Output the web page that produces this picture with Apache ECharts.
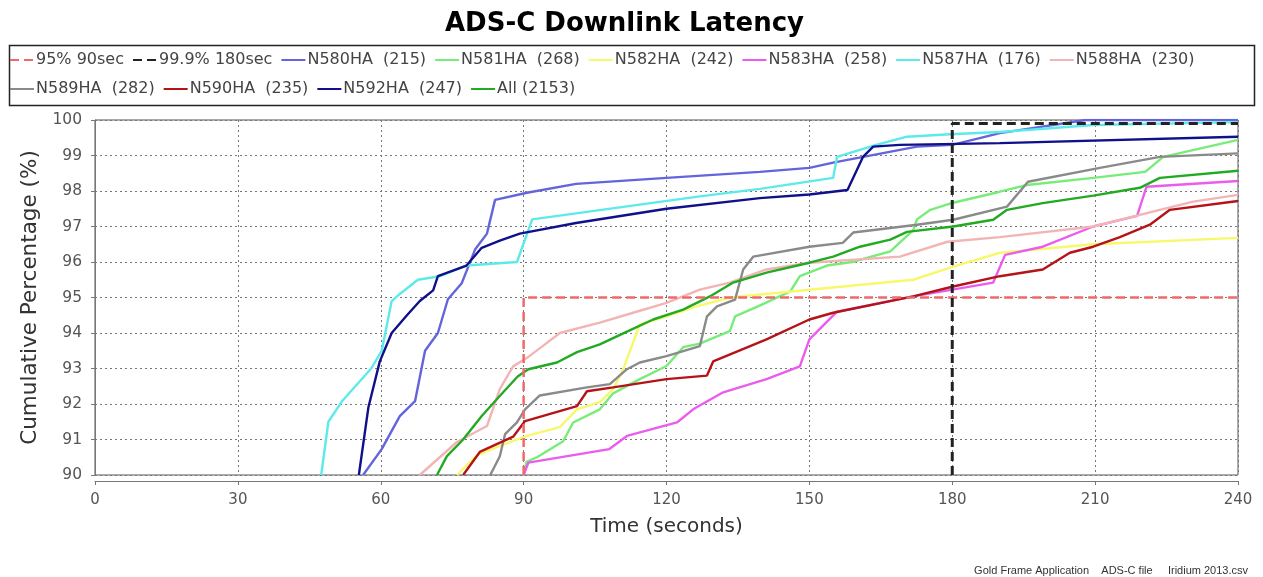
<!DOCTYPE html>
<html>
<head>
<meta charset="utf-8">
<script src="https://cdn.jsdelivr.net/npm/echarts@6/dist/echarts.min.js"></script>
<style>
html,body{margin:0;padding:0;background:#fff;}
#chart{width:1263px;height:577px;}
</style>
</head>
<body>
<div id="chart"></div>
<script>
// ---- data (time in seconds, cumulative percentage) ----
const xTicks = [0, 30, 60, 90, 120, 150, 180, 210, 240];
const yTicks = [90, 91, 92, 93, 94, 95, 96, 97, 98, 99, 100];

const ref95 = [[90, 90], [90, 95], [240, 95]];
const ref999 = [[180, 90], [180, 99.9], [240, 99.9]];

const n580 = [[56.3,90],[60.2,90.73],[64,91.66],[67.2,92.08],[69.3,93.5],[72,94.0],[74.1,94.95],[77,95.4],[79.8,96.35],[82.3,96.8],[84,97.75],[90.7,97.95],[101,98.2],[120,98.37],[139.6,98.54],[150,98.65],[155,98.8],[172.6,99.25],[180,99.3],[190,99.63],[208,100],[240,100]];
const n581 = [[90,90],[90.6,90.37],[92.8,90.5],[98.3,90.95],[100.4,91.48],[106,91.85],[108.8,92.3],[114.4,92.7],[120,93.07],[123.5,93.6],[127,93.7],[130.5,93.9],[133.3,94.05],[134.4,94.47],[139.2,94.75],[146,95.17],[148,95.6],[153.7,95.9],[159,96.0],[167,96.3],[171.8,96.9],[172.6,97.2],[175.4,97.47],[180.2,97.67],[190,97.98],[195.7,98.17],[209.6,98.37],[220.5,98.54],[224.3,98.96],[240,99.44]];
const n582 = [[76,90],[80.2,90.55],[85,90.82],[90.7,91.1],[97.6,91.35],[101.2,91.85],[106,92.05],[108.8,92.42],[110.9,92.98],[114.4,94.24],[120,94.47],[125.6,94.72],[133.3,95.0],[150,95.22],[171.8,95.5],[180.2,95.87],[190,96.26],[209.6,96.5],[240,96.68]];
const n583 = [[90,90],[91,90.35],[108,90.73],[111.7,91.1],[122.2,91.48],[125.6,91.85],[131.9,92.33],[141,92.7],[148,93.06],[150,93.82],[155.8,94.6],[171.8,95.03],[188.6,95.42],[191.1,96.2],[199,96.43],[209.6,97.0],[218.8,97.3],[220.8,98.12],[240,98.28]];
const n587 = [[47.5,90],[49,91.5],[52,92.1],[58,93.0],[60.2,93.5],[62.3,94.9],[64,95.1],[67.8,95.5],[72.4,95.6],[78,95.9],[88.6,96.0],[91.8,97.2],[127,97.85],[139.6,98.06],[155,98.37],[155.8,98.96],[164,99.3],[170.5,99.53],[179.5,99.6],[190,99.66],[209.6,99.86],[240,99.94]];
const n588 = [[68.2,90],[76,90.93],[82.3,91.38],[85,92.42],[87.8,93.06],[90.7,93.3],[94,93.63],[97.6,94.0],[106,94.29],[113,94.57],[120,94.85],[127,95.22],[133.3,95.42],[141,95.79],[150,95.98],[169,96.15],[179,96.57],[190,96.7],[209.6,97.0],[223.6,97.47],[230.6,97.7],[240,97.89]];
const n589 = [[83,90],[85,90.53],[86.1,91.15],[88.6,91.48],[90.3,91.85],[93.4,92.24],[103.3,92.47],[108.1,92.56],[111.7,92.98],[114.4,93.17],[120,93.35],[127,93.63],[128.5,94.47],[130.6,94.75],[134.4,94.94],[136.1,95.79],[138.2,96.15],[150,96.43],[157,96.54],[159.2,96.83],[172.6,97.05],[180.2,97.19],[191.5,97.56],[195.9,98.26],[211,98.65],[223.6,98.96],[240,99.06]];
const n590 = [[77.3,90],[80.8,90.65],[87.8,91.08],[90.3,91.52],[101.2,91.94],[103.3,92.36],[108.8,92.47],[120,92.7],[128.5,92.8],[129.8,93.2],[141,93.82],[150,94.38],[155,94.57],[171.8,95.03],[180.2,95.31],[190,95.6],[199,95.79],[204.7,96.26],[209.6,96.43],[215.2,96.7],[221.5,97.05],[225.7,97.47],[240,97.72]];
const n592 = [[55.4,90],[57.4,91.9],[59.8,93.2],[62.3,94.0],[65.5,94.5],[68.2,94.9],[71,95.2],[72,95.6],[78,95.9],[81.2,96.4],[85,96.6],[89.2,96.8],[101,97.1],[120,97.5],[139.6,97.8],[150,97.9],[158,98.03],[161.3,98.97],[163.4,99.25],[169,99.3],[190,99.35],[240,99.53]];
const all = [[71.8,90],[73.9,90.53],[77.3,91.0],[81.2,91.66],[85.7,92.33],[88.8,92.78],[91,92.98],[97,93.17],[101.2,93.46],[106,93.68],[111.7,94.04],[117.2,94.38],[123.5,94.66],[129.1,95.03],[134,95.42],[141,95.7],[150,95.98],[155,96.15],[160.6,96.43],[167,96.63],[170.5,96.85],[180.2,97.0],[188.6,97.19],[191.5,97.47],[199,97.66],[209.6,97.87],[219.4,98.09],[223.6,98.37],[240,98.57]];

const seriesNames = ['95% 90sec','99.9% 180sec','N580HA  (215)','N581HA  (268)','N582HA  (242)','N583HA  (258)','N587HA  (176)','N588HA  (230)','N589HA  (282)','N590HA  (235)','N592HA  (247)','All (2153)'];
const seriesData = [ref95, ref999, n580, n581, n582, n583, n587, n588, n589, n590, n592, all];
const seriesColors = ['#ee6a6a','#222222','#6464dc','#78ec78','#f8f86c','#ec5cec','#5ceaea','#f2b4b4','#8a8a8a','#b41418','#10108a','#22aa22'];

const chart = echarts.init(document.getElementById('chart'), null, {renderer: 'canvas'});

const series = seriesNames.map((name, i) => {
  const isRef = i < 2;
  return {
    name: name,
    type: 'line',
    data: seriesData[i],
    showSymbol: false,
    symbol: 'none',
    animation: false,
    z: isRef ? 10 : 3,
    lineStyle: {
      color: seriesColors[i],
      width: isRef ? (i === 0 ? 2.5 : 3) : 2.4,
      type: isRef ? [9, 5] : 'solid'
    },
    itemStyle: {color: seriesColors[i]}
  };
});

const legendCommon = {
  left: 9,
  padding: 0,
  orient: 'horizontal',
  itemWidth: 24,
  itemHeight: 14,
  itemGap: 8,
  itemStyle: {opacity: 0},
  textStyle: {fontFamily: 'DejaVu Sans', fontSize: 16, color: '#444', padding: [0, 0, 0, -3]}
};

chart.setOption({
  backgroundColor: '#ffffff',
  animation: false,
  title: {
    text: 'ADS-C Downlink Latency',
    left: 440,
    top: 6,
    textStyle: {fontFamily: 'DejaVu Sans', fontWeight: 'bold', fontSize: 26, color: '#000'}
  },
  legend: [
    Object.assign({}, legendCommon, {top: 52, data: seriesNames.slice(0, 8)}),
    Object.assign({}, legendCommon, {top: 81, data: seriesNames.slice(8)})
  ],
  graphic: [
    {type: 'rect', left: 7, top: 43, shape: {width: 1245, height: 60}, style: {fill: 'none', stroke: '#222', lineWidth: 1.5}, z: 0, silent: true},
    {type: 'text', right: 15, top: 565, style: {text: 'Gold Frame Application    ADS-C file     Iridium 2013.csv', fontFamily: 'Liberation Sans', fontSize: 11, fill: '#333'}}
  ],
  grid: {
    left: 95, right: 25, top: 120, bottom: 102,
    show: true, borderColor: '#555', borderWidth: 1, backgroundColor: '#fff'
  },
  xAxis: {
    type: 'value', min: 0, max: 240, interval: 30, offset: 6,
    name: 'Time (seconds)', nameLocation: 'middle', nameGap: 36,
    nameTextStyle: {fontFamily: 'DejaVu Sans', fontSize: 20, color: '#333'},
    axisLine: {show: true, lineStyle: {color: '#777', width: 1}},
    axisTick: {show: true, length: 4, lineStyle: {color: '#777'}},
    axisLabel: {fontFamily: 'DejaVu Sans', fontSize: 15, color: '#555', margin: 12, formatter: v => xTicks.includes(v) ? String(v) : ''},
    splitLine: {show: true, lineStyle: {color: '#777', type: [2, 3], width: 1}}
  },
  yAxis: {
    type: 'value', min: 90, max: 100, interval: 1, offset: 5,
    name: 'Cumulative Percentage (%)', nameLocation: 'middle', nameGap: 46, nameRotate: 90,
    nameTextStyle: {fontFamily: 'DejaVu Sans', fontSize: 21.5, color: '#333'},
    axisLine: {show: true, lineStyle: {color: '#777', width: 1}},
    axisTick: {show: true, length: 4, lineStyle: {color: '#777'}},
    axisLabel: {fontFamily: 'DejaVu Sans', fontSize: 15.5, color: '#555', margin: 8, formatter: v => yTicks.includes(v) ? String(v) : ''},
    splitLine: {show: true, lineStyle: {color: '#777', type: [2, 3], width: 1}}
  },
  series: series
});
</script>
</body>
</html>
